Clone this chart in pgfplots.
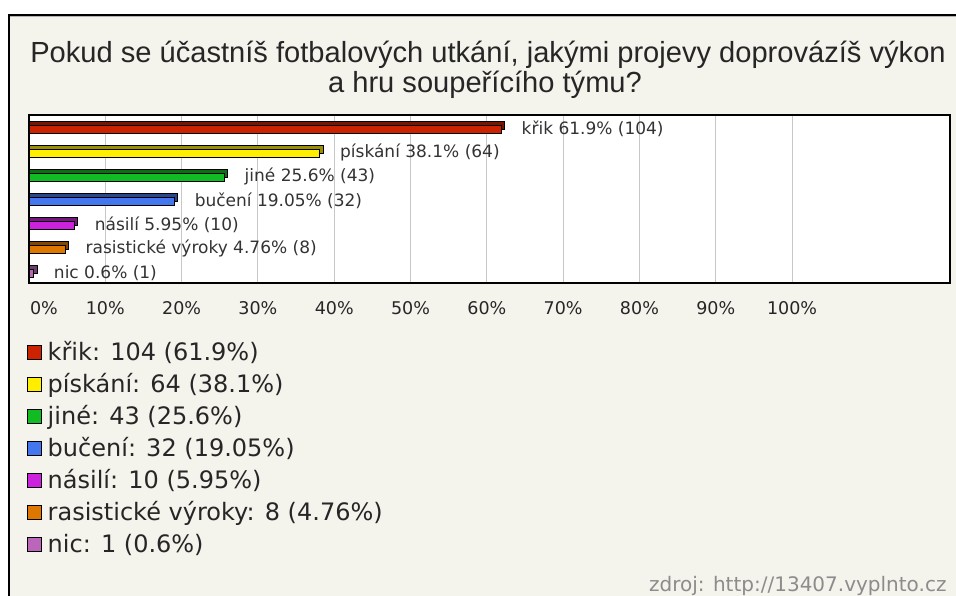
\documentclass[border=0pt]{standalone}
\usepackage{fontspec}
\setmainfont{DejaVu Sans}
\newfontfamily\titlefont{Liberation Sans}
\usepackage{pgfplots}
\pgfplotsset{compat=1.18}
\definecolor{bgc}{RGB}{244,243,236}
\definecolor{cA}{RGB}{204,34,0}
\definecolor{cB}{RGB}{255,238,0}
\definecolor{cC}{RGB}{17,187,34}
\definecolor{cD}{RGB}{68,119,238}
\definecolor{cE}{RGB}{204,34,221}
\definecolor{cF}{RGB}{221,119,0}
\definecolor{cG}{RGB}{187,102,187}

\pgfplotsset{
  front/.style={fill=#1,draw=black,line width=0.8pt,bar shift=0pt,forget plot,
    nodes near coords,point meta=explicit symbolic,
    every node near coord/.append style={anchor=west,inner sep=0pt,xshift=20pt,
      font=\fontsize{17}{17}\selectfont,text=black!80}},
  back/.style={fill=#1!60!black,draw=black,line width=0.8pt,bar shift=4pt,forget plot,
    x filter/.expression={x+0.45}},
  sq/.style={legend image code/.code={\draw[#1] (0pt,-7pt) rectangle (14pt,7pt);}},
}

\begin{document}
\begin{tikzpicture}
\fill[white] (0pt,0pt) rectangle (956pt,596pt);
\fill[bgc] (9pt,0pt) rectangle (956pt,581pt);
\draw[gray!60,line width=1pt] (10pt,579pt) -- (956pt,579pt);
\draw[black,line width=2pt] (9pt,0pt) -- (9pt,581pt) -- (956pt,581pt);

\node[anchor=base,font=\titlefont\fontsize{29.1}{30}\selectfont,text=black!85] at (488pt,533pt)
  {Pokud se účastníš fotbalových utkání, jakými projevy doprovázíš výkon};
\node[anchor=base,font=\titlefont\fontsize{29.1}{30}\selectfont,text=black!85] at (485pt,503pt)
  {a hru soupeřícího týmu?};

\begin{axis}[
  at={(29pt,313pt)},anchor=south west,
  scale only axis,width=921pt,height=168pt,
  xmin=0,xmax=120.7,ymin=-0.42,ymax=6.58,
  xbar,bar width=8pt,
  ytick=\empty,
  xtick={0,10,...,100},
  xticklabels={\hspace*{30pt}0\%,10\%,20\%,30\%,40\%,50\%,60\%,70\%,80\%,90\%,100\%},
  xticklabel style={anchor=center,yshift=-25pt,font=\fontsize{17.5}{17.5}\selectfont,text=black!85},
  major tick length=0pt,
  xmajorgrids,
  grid style={draw=black!22,line width=1pt},
  axis background/.style={fill=white},
  axis line style={line width=1.2pt},
  clip=false,
  legend style={at={(0,0)},anchor=north west,xshift=-2.5pt,yshift=-61pt,
    draw=none,fill=none,inner sep=0pt,row sep=16pt,
    font=\fontsize{24}{24}\selectfont,text=black!85,
    nodes={inner xsep=6pt,inner ysep=0pt,text height=16pt,text depth=0pt}},
  legend cell align=left,
]
% back faces
\addplot[back=cA] coordinates {(61.9,6)};
\addplot[back=cB] coordinates {(38.1,5)};
\addplot[back=cC] coordinates {(25.6,4)};
\addplot[back=cD] coordinates {(19.05,3)};
\addplot[back=cE] coordinates {(5.95,2)};
\addplot[back=cF] coordinates {(4.76,1)};
\addplot[back=cG] coordinates {(0.6,0)};
% front faces with labels
\addplot[front=cA] coordinates {(61.9,6) [křik 61.9\% (104)]};
\addplot[front=cB] coordinates {(38.1,5) [pískání 38.1\% (64)]};
\addplot[front=cC] coordinates {(25.6,4) [jiné 25.6\% (43)]};
\addplot[front=cD] coordinates {(19.05,3) [bučení 19.05\% (32)]};
\addplot[front=cE] coordinates {(5.95,2) [násilí 5.95\% (10)]};
\addplot[front=cF] coordinates {(4.76,1) [rasistické výroky 4.76\% (8)]};
\addplot[front=cG] coordinates {(0.6,0) [nic 0.6\% (1)]};

\addlegendimage{sq={fill=cA,draw=black,line width=1pt}}
\addlegendentry{křik: 104 (61.9\%)}
\addlegendimage{sq={fill=cB,draw=black,line width=1pt}}
\addlegendentry{pískání: 64 (38.1\%)}
\addlegendimage{sq={fill=cC,draw=black,line width=1pt}}
\addlegendentry{jiné: 43 (25.6\%)}
\addlegendimage{sq={fill=cD,draw=black,line width=1pt}}
\addlegendentry{bučení: 32 (19.05\%)}
\addlegendimage{sq={fill=cE,draw=black,line width=1pt}}
\addlegendentry{násilí: 10 (5.95\%)}
\addlegendimage{sq={fill=cF,draw=black,line width=1pt}}
\addlegendentry{rasistické výroky: 8 (4.76\%)}
\addlegendimage{sq={fill=cG,draw=black,line width=1pt}}
\addlegendentry{nic: 1 (0.6\%)}
\end{axis}

\node[anchor=base east,font=\fontsize{20}{20}\selectfont,text=black!45] at (950pt,4pt)
  {zdroj: http://13407.vyplnto.cz};

\pgfresetboundingbox
\useasboundingbox (0pt,0pt) rectangle (956pt,596pt);
\end{tikzpicture}
\end{document}
